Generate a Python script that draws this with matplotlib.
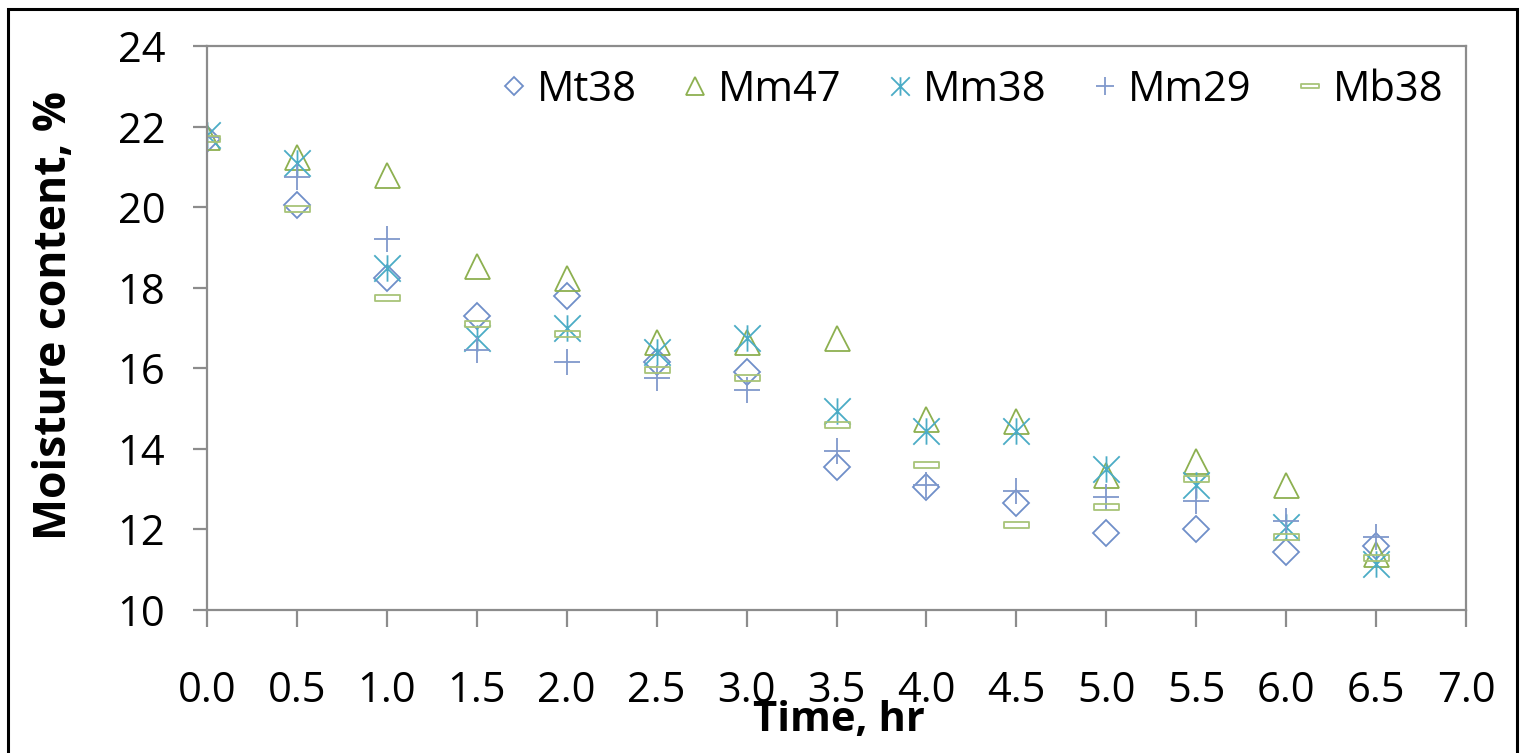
import numpy as np
import matplotlib
matplotlib.use('Agg')
import matplotlib.pyplot as plt
from matplotlib.path import Path
from matplotlib.patches import Rectangle

time_hr = [0.0, 0.5, 1.0, 1.5, 2.0, 2.5, 3.0, 3.5, 4.0, 4.5, 5.0, 5.5, 6.0, 6.5]
mt38 = [21.7, 20.05, 18.25, 17.3, 17.8, 16.15, 15.9, 13.55, 13.05, 12.65, 11.9, 12.0, 11.45, 11.6]
mm47 = [21.75, 21.25, 20.8, 18.55, 18.25, 16.65, 16.65, 16.75, 14.75, 14.7, 13.35, 13.7, 13.1, 11.4]
mm38 = [21.8, 21.1, 18.5, 16.75, 17.0, 16.4, 16.75, 14.95, 14.45, 14.45, 13.5, 13.1, 12.05, 11.15]
mm29 = [21.75, 20.75, 19.2, 16.45, 16.15, 15.75, 15.45, 13.95, 13.1, 12.95, 12.8, 12.7, 12.2, 11.8]
mb38 = [21.7, 19.95, 17.75, 17.1, 16.85, 15.95, 15.75, 14.6, 13.6, 12.1, 12.55, 13.25, 11.8, 11.3]

series = ['Mt38', 'Mm47', 'Mm38', 'Mm29', 'Mb38']
values = [mt38, mm47, mm38, mm29, mb38]
colors = ['#6F8FC9', '#8DB050', '#4BACC6', '#8099CC', '#A8C478']

# excel style star marker: X with a vertical bar
star = Path([(-0.5, -0.5), (0.5, 0.5), (-0.5, 0.5), (0.5, -0.5), (0, -0.5), (0, 0.5)],
            [Path.MOVETO, Path.LINETO, Path.MOVETO, Path.LINETO, Path.MOVETO, Path.LINETO])
dash = Path([(-0.5, -0.12), (0.5, -0.12), (0.5, 0.12), (-0.5, 0.12), (-0.5, -0.12)],
            [Path.MOVETO, Path.LINETO, Path.LINETO, Path.LINETO, Path.CLOSEPOLY])
markers = ['D', '^', star, '+', dash]
sizes = [13, 18, 19, 19, 18]

plt.rcParams['font.family'] = ['Open Sans', 'DejaVu Sans']

fig = plt.figure(figsize=(15.21, 7.53), dpi=100)
ax = fig.add_axes([207 / 1521, 1 - 610 / 753, (1466 - 207) / 1521, (610 - 46) / 753])

for name, vals, col, mk, ms in zip(series, values, colors, markers, sizes):
    ax.plot(time_hr, vals, linestyle='none', marker=mk, markersize=ms,
            markerfacecolor='none', markeredgecolor=col, markeredgewidth=1.3,
            label=name)

ax.set_xlim(0, 7)
ax.set_ylim(10, 24)
ax.set_xticks(np.arange(0, 7.01, 0.5))
ax.set_xticklabels([f'{v:.1f}' for v in np.arange(0, 7.01, 0.5)])
ax.set_yticks(range(10, 25, 2))
for s in ax.spines.values():
    s.set_color('#8C8C8C')
    s.set_linewidth(1.6)
ax.tick_params(axis='x', direction='out', length=12, width=1.6, color='#8C8C8C',
               labelsize=30, pad=31)
ax.tick_params(axis='y', direction='out', length=10, width=1.6, color='#8C8C8C',
               labelsize=30, pad=20)

fig.text(55 / 1521, 1 - 315 / 753, 'Moisture content, %', rotation=90,
         ha='center', va='center', fontsize=32, fontweight='bold')
fig.text(839 / 1521, 1 - 720 / 753, 'Time, hr', ha='center', va='center',
         fontsize=30, fontweight='bold')

ax.legend(loc='upper right', bbox_to_anchor=(1.0, 1.0), ncol=5, frameon=False,
          fontsize=30, markerscale=0.7, handlelength=0.7, handletextpad=0.2,
          columnspacing=1.05, borderaxespad=0.15)

# outer chart border
fig.patches.append(Rectangle((8 / 1521, -0.05), (1517 - 8) / 1521, 1.05 - 9 / 753,
                             transform=fig.transFigure, fill=False,
                             edgecolor='black', linewidth=2.2))

fig.savefig('out.png', dpi=100)
